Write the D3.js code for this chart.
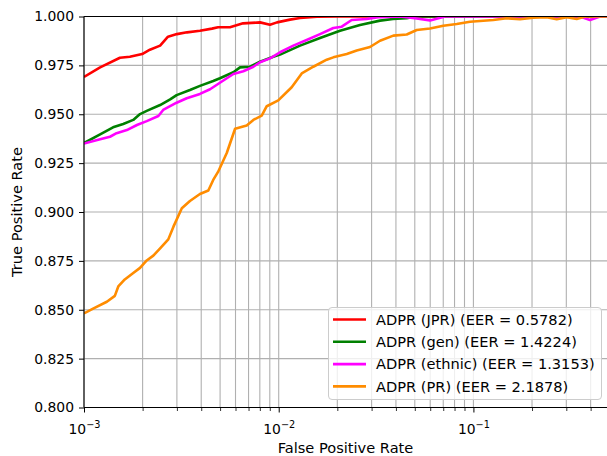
<!DOCTYPE html>
<html>
<head>
<meta charset="utf-8">
<script src="https://cdn.jsdelivr.net/npm/d3@7"></script>
<style>
  html, body { margin: 0; padding: 0; background: #fff; }
  svg { display: block; font-family: "DejaVu Sans", sans-serif; }
</style>
</head>
<body>
<svg id="chart" width="607" height="456"></svg>
<script>
// ---- data ----
const seriesNames = [
  "ADPR (JPR) (EER = 0.5782)",
  "ADPR (gen) (EER = 1.4224)",
  "ADPR (ethnic) (EER = 1.3153)",
  "ADPR (PR) (EER = 2.1878)"
];
const seriesColors = ["#ff0000", "#008000", "#ff00ff", "#ff8c00"];

const jprFpr = [0.00100, 0.00121, 0.00153, 0.00172, 0.00199, 0.00218, 0.00246, 0.00270, 0.00300, 0.00338, 0.00394, 0.00454, 0.00488, 0.00562, 0.00656, 0.00802, 0.00902, 0.00980, 0.01143, 0.01287, 0.01573, 0.0200, 0.5];
const jprTpr = [0.9691, 0.9740, 0.9789, 0.9794, 0.9808, 0.9830, 0.9851, 0.9897, 0.9910, 0.9919, 0.9927, 0.9938, 0.9945, 0.9945, 0.9965, 0.9970, 0.9958, 0.9970, 0.9984, 0.9992, 0.9999, 1.0, 1.0];

const genFpr = [0.00100, 0.00121, 0.00141, 0.00159, 0.00179, 0.00194, 0.00210, 0.00246, 0.00277, 0.00299, 0.00350, 0.00394, 0.00461, 0.00499, 0.00585, 0.00633, 0.00712, 0.00802, 0.00938, 0.01016, 0.01287, 0.01630, 0.02065, 0.02616, 0.03314, 0.03864, 0.04544, 0.0501, 0.5];
const genTpr = [0.9353, 0.9397, 0.9433, 0.9450, 0.9471, 0.9501, 0.9517, 0.9547, 0.9576, 0.9598, 0.9624, 0.9645, 0.9670, 0.9684, 0.9715, 0.9740, 0.9743, 0.9769, 0.9794, 0.9805, 0.9851, 0.9890, 0.9927, 0.9957, 0.9979, 0.9987, 0.9991, 1.0, 1.0];

const ethFpr = [0.00100, 0.00121, 0.00136, 0.00147, 0.00166, 0.00187, 0.00210, 0.00241, 0.00255, 0.00299, 0.00337, 0.00394, 0.00444, 0.00499, 0.00585, 0.00658, 0.00741, 0.00802, 0.00902, 0.01016, 0.01189, 0.01392, 0.01630, 0.01908, 0.02107, 0.02371, 0.02831, 0.03314, 0.04198, 0.05114, 0.05986, 0.0715, 0.353, 0.397, 0.447, 0.5];
const ethTpr = [0.9350, 0.9372, 0.9385, 0.9403, 0.9419, 0.9445, 0.9465, 0.9491, 0.9522, 0.9559, 0.9582, 0.9604, 0.9628, 0.9661, 0.9706, 0.9720, 0.9743, 0.9766, 0.9786, 0.9817, 0.9851, 0.9880, 0.9910, 0.9941, 0.9948, 0.9982, 0.9987, 0.9997, 1.0, 0.9990, 0.9980, 1.0, 1.0, 0.9982, 1.0, 1.0];

const prFpr = [0.00100, 0.00112, 0.00131, 0.00144, 0.00150, 0.00162, 0.00179, 0.00194, 0.00210, 0.00227, 0.00246, 0.00271, 0.00288, 0.00318, 0.00350, 0.00394, 0.00435, 0.00461, 0.00488, 0.00541, 0.00597, 0.00685, 0.00741, 0.00818, 0.00868, 0.00995, 0.01166, 0.01313, 0.01506, 0.01764, 0.01908, 0.02236, 0.02516, 0.02944, 0.03314, 0.03880, 0.04544, 0.05114, 0.05986, 0.07005, 0.08207, 0.09605, 0.1266, 0.1483, 0.1735, 0.2031, 0.2379, 0.2678, 0.3015, 0.3394, 0.3743, 0.5];
const prTpr = [0.8481, 0.8507, 0.8541, 0.8571, 0.8619, 0.8655, 0.8688, 0.8714, 0.8752, 0.8777, 0.8814, 0.8860, 0.8925, 0.9019, 0.9056, 0.9092, 0.9110, 0.9164, 0.9205, 0.9302, 0.9426, 0.9443, 0.9471, 0.9493, 0.9541, 0.9571, 0.9638, 0.9709, 0.9743, 0.9779, 0.9791, 0.9808, 0.9826, 0.9844, 0.9876, 0.9902, 0.9908, 0.9931, 0.9939, 0.9953, 0.9962, 0.9973, 0.9982, 0.9991, 0.9986, 0.9994, 0.9996, 0.9986, 0.9996, 0.9987, 1.0, 1.0];

const yTicks = [0.800, 0.825, 0.850, 0.875, 0.900, 0.925, 0.950, 0.975, 1.000];
const xMajorTicks = [0.001, 0.01, 0.1];
const xMajorExponents = ["\u22123", "\u22122", "\u22121"];
const xMinorTicks = [0.002, 0.003, 0.004, 0.005, 0.006, 0.007, 0.008, 0.009,
                     0.02, 0.03, 0.04, 0.05, 0.06, 0.07, 0.08, 0.09,
                     0.2, 0.3, 0.4];
const xDomain = [0.001, 0.5];
const yDomain = [0.8, 1.0];
const xLabel = "False Positive Rate";
const yLabel = "True Positive Rate";

// ---- layout ----
const L = 84, R = 609.5, T = 16.5, B = 407.5;
const FS = 13.9;
const FS2 = 14.6;
const svg = d3.select("#chart");

const x = d3.scaleLog().domain(xDomain).range([L, R]);
const y = d3.scaleLinear().domain(yDomain).range([B, T]);

svg.append("defs").append("clipPath").attr("id", "plotclip")
  .append("rect").attr("x", L).attr("y", T).attr("width", R - L).attr("height", B - T);

// grid
const grid = svg.append("g").attr("stroke", "#b0b0b0").attr("stroke-width", 1.1);
grid.selectAll("line.gx").data(xMajorTicks.concat(xMinorTicks)).enter().append("line")
  .attr("x1", d => x(d)).attr("x2", d => x(d)).attr("y1", T).attr("y2", B);
grid.selectAll("line.gy").data(yTicks).enter().append("line")
  .attr("x1", L).attr("x2", R).attr("y1", d => y(d)).attr("y2", d => y(d));

// lines
const series = [
  {fpr: jprFpr, tpr: jprTpr},
  {fpr: genFpr, tpr: genTpr},
  {fpr: ethFpr, tpr: ethTpr},
  {fpr: prFpr, tpr: prTpr}
];
const line = d3.line().x(d => x(d[0])).y(d => y(d[1]));
const lines = svg.append("g").attr("clip-path", "url(#plotclip)");
series.forEach((s, i) => {
  const pts = s.fpr.map((f, j) => [f, s.tpr[j]]);
  lines.append("path").datum(pts)
    .attr("d", line)
    .attr("fill", "none")
    .attr("stroke", seriesColors[i])
    .attr("stroke-width", 2.6)
    .attr("stroke-linejoin", "round")
    .attr("stroke-linecap", "butt");
});

// axes
const yAxis = svg.append("g").attr("transform", `translate(${L},0)`)
  .call(d3.axisLeft(y).tickValues(yTicks).tickFormat(d3.format(".3f")).tickSize(5).tickSizeOuter(0).tickPadding(5));
yAxis.select(".domain").remove();
yAxis.selectAll("text").attr("font-size", FS).attr("font-family", "DejaVu Sans").attr("fill", "#000");
yAxis.selectAll("line").attr("stroke", "#000").attr("stroke-width", 1);

const xAxisMinor = svg.append("g").attr("transform", `translate(0,${B})`)
  .call(d3.axisBottom(x).tickValues(xMinorTicks).tickFormat("").tickSize(3.5).tickSizeOuter(0));
xAxisMinor.select(".domain").remove();
xAxisMinor.selectAll("line").attr("stroke", "#000").attr("stroke-width", 0.8);

const xAxis = svg.append("g").attr("transform", `translate(0,${B})`)
  .call(d3.axisBottom(x).tickValues(xMajorTicks).tickFormat("").tickSize(5).tickSizeOuter(0));
xAxis.select(".domain").remove();
xAxis.selectAll("line").attr("stroke", "#000").attr("stroke-width", 1);
xAxis.selectAll(".tick").each(function(d, i) {
  const t = d3.select(this).append("text")
    .attr("y", 26).attr("fill", "#000")
    .attr("font-size", FS).attr("font-family", "DejaVu Sans")
    .attr("text-anchor", "middle");
  t.append("tspan").text("10");
  t.append("tspan").attr("font-size", FS * 0.7).attr("dy", -6).text(xMajorExponents[i]);
});

// spines
svg.append("line").attr("x1", L).attr("x2", L).attr("y1", T).attr("y2", B).attr("stroke", "#000").attr("stroke-width", 1.1);
svg.append("line").attr("x1", L).attr("x2", R).attr("y1", B).attr("y2", B).attr("stroke", "#000").attr("stroke-width", 1.1);
svg.append("line").attr("x1", L).attr("x2", R).attr("y1", T).attr("y2", T).attr("stroke", "#000").attr("stroke-width", 1.1);

// axis labels
svg.append("text").attr("x", 345.5).attr("y", 453)
  .attr("text-anchor", "middle").attr("font-size", FS2).attr("fill", "#000").text(xLabel);
svg.append("text").attr("transform", `translate(22,${(T + B) / 2}) rotate(-90)`)
  .attr("text-anchor", "middle").attr("font-size", FS2).attr("fill", "#000").text(yLabel);

// legend
const lg = svg.append("g");
lg.append("rect").attr("x", 328.5).attr("y", 307.5).attr("width", 273).attr("height", 92)
  .attr("rx", 3.5).attr("fill", "#fff").attr("fill-opacity", 0.8)
  .attr("stroke", "#cccccc").attr("stroke-width", 1);
seriesNames.forEach((name, i) => {
  const cy = 319.5 + i * 22.3;
  lg.append("line").attr("x1", 333).attr("x2", 366).attr("y1", cy).attr("y2", cy)
    .attr("stroke", seriesColors[i]).attr("stroke-width", 2.6);
  lg.append("text").attr("x", 376).attr("y", cy + 5.3).attr("font-size", FS2).attr("fill", "#000").text(name);
});
</script>
</body>
</html>
